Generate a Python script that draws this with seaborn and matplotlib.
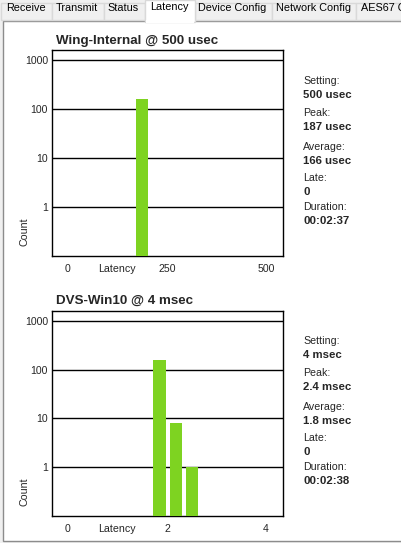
import matplotlib
matplotlib.use("Agg")
import matplotlib.pyplot as plt
from matplotlib.patches import Rectangle
import seaborn as sns
import pandas as pd

# Tab strip
tab_names = ["Receive", "Transmit", "Status", "Latency", "Device Config", "Network Config", "AES67 C"]
active_tab = "Latency"

# Top chart: Wing-Internal @ 500 usec
top_title = "Wing-Internal @ 500 usec"
top_latency = [187]        # usec
top_counts = [163]
top_xticks = [0, 250, 500]
top_stats = ["500 usec", "187 usec", "166 usec", "0", "00:02:37"]

# Bottom chart: DVS-Win10 @ 4 msec
bottom_title = "DVS-Win10 @ 4 msec"
bottom_latency = [1.85, 2.18, 2.5]   # msec
bottom_counts = [155, 8, 1]
bottom_xticks = [0, 2, 4]
bottom_stats = ["4 msec", "2.4 msec", "1.8 msec", "0", "00:02:38"]

stat_labels = ["Setting:", "Peak:", "Average:", "Late:", "Duration:"]
y_ticks = [1, 10, 100, 1000]

GREEN = "#7ed321"
W, H = 401, 543

sns.set_style("white")
plt.rcParams["font.family"] = ["Liberation Sans", "DejaVu Sans"]

fig = plt.figure(figsize=(W / 100, H / 100), dpi=100, facecolor="#f0f0f0")

# background layer in pixel coordinates
bg = fig.add_axes([0, 0, 1, 1])
bg.set_xlim(0, W)
bg.set_ylim(H, 0)
bg.axis("off")

# panel
bg.add_patch(Rectangle((2.5, 20.5), 410, 520, facecolor="white", edgecolor="#8c8c8c", lw=1))

# tabs
tab_edges = [0, 51, 103, 144, 194, 271, 355, 420]
for i, name in enumerate(tab_names):
    x0, x1 = tab_edges[i], tab_edges[i + 1]
    if name == active_tab:
        bg.add_patch(Rectangle((x0 + 0.5, 0), x1 - x0, 21.5, facecolor="white",
                               edgecolor="#d9d9d9", lw=1, zorder=3))
        bg.add_patch(Rectangle((x0 + 1.5, 19.5), x1 - x0 - 2, 3, facecolor="white",
                               edgecolor="none", zorder=4))
        ty = 6.5
    else:
        bg.add_patch(Rectangle((x0 + 0.5, 2.5), x1 - x0, 17.5, facecolor="#f0f0f0",
                               edgecolor="#d9d9d9", lw=1, zorder=2))
        ty = 8
    bg.text((x0 + x1) / 2 if i < len(tab_names) - 1 else x0 + 6, ty, name,
            ha="center" if i < len(tab_names) - 1 else "left", va="center",
            fontsize=7.8, color="#000000", zorder=5)


def draw_chart(top_px, bottom_px, title, title_y, lat, counts, width, xlim, xticks, stats, stat_y0):
    left_px, right_px = 52, 283
    ax = fig.add_axes([left_px / W, 1 - bottom_px / H, (right_px - left_px) / W,
                       (bottom_px - top_px) / H])
    df = pd.DataFrame({"latency": lat, "count": counts})
    uniq = sorted(set(lat))
    step = min(b - a for a, b in zip(uniq, uniq[1:])) if len(uniq) > 1 else 1
    sns.barplot(data=df, x="latency", y="count", native_scale=True, width=width / step,
                color=GREEN, saturation=1, errorbar=None, ax=ax, zorder=3,
                linewidth=0)
    ax.set_yscale("log")
    ax.set_ylim(0.101, 1600)
    ax.set_xlim(*xlim)
    ax.set_yticks(y_ticks)
    ax.set_yticklabels([str(t) for t in y_ticks], fontsize=7.6)
    ax.minorticks_off()
    ax.set_yticks([], minor=True)
    ax.set_xticks(xticks)
    ax.set_xticklabels([str(t) for t in xticks], fontsize=7.6)
    ax.tick_params(length=0, pad=3)
    ax.tick_params(axis="x", pad=6)
    ax.yaxis.grid(True, color="black", lw=1)
    ax.xaxis.grid(False)
    ax.set_axisbelow(True)
    for s in ax.spines.values():
        s.set_color("black")
        s.set_linewidth(1)
    ax.set_xlabel("")
    ax.set_ylabel("")

    bg.text(56, title_y, title, ha="left", va="center", fontsize=9.6, fontweight="bold")
    bg.text(117, bottom_px + 13, "Latency", ha="center", va="center", fontsize=7.7)
    bg.text(24, bottom_px - 24, "Count", ha="center", va="center", rotation=90, fontsize=7.7)

    label_off = [0, 32.6, 66, 97.6, 126]
    for lab, val, dy in zip(stat_labels, stats, label_off):
        bg.text(303, stat_y0 + dy, lab, ha="left", va="center", fontsize=7.7)
        bg.text(303, stat_y0 + dy + 13.8, val, ha="left", va="center", fontsize=8.2,
                fontweight="bold")


draw_chart(50, 256, top_title, 41, top_latency, top_counts, 32, (-40.4, 543),
           top_xticks, top_stats, 80.7)
draw_chart(310.7, 516, bottom_title, 300.7, bottom_latency, bottom_counts, 0.25,
           (-0.323, 4.343), bottom_xticks, bottom_stats, 340.7)

fig.savefig("out.png", dpi=100, facecolor=fig.get_facecolor())
